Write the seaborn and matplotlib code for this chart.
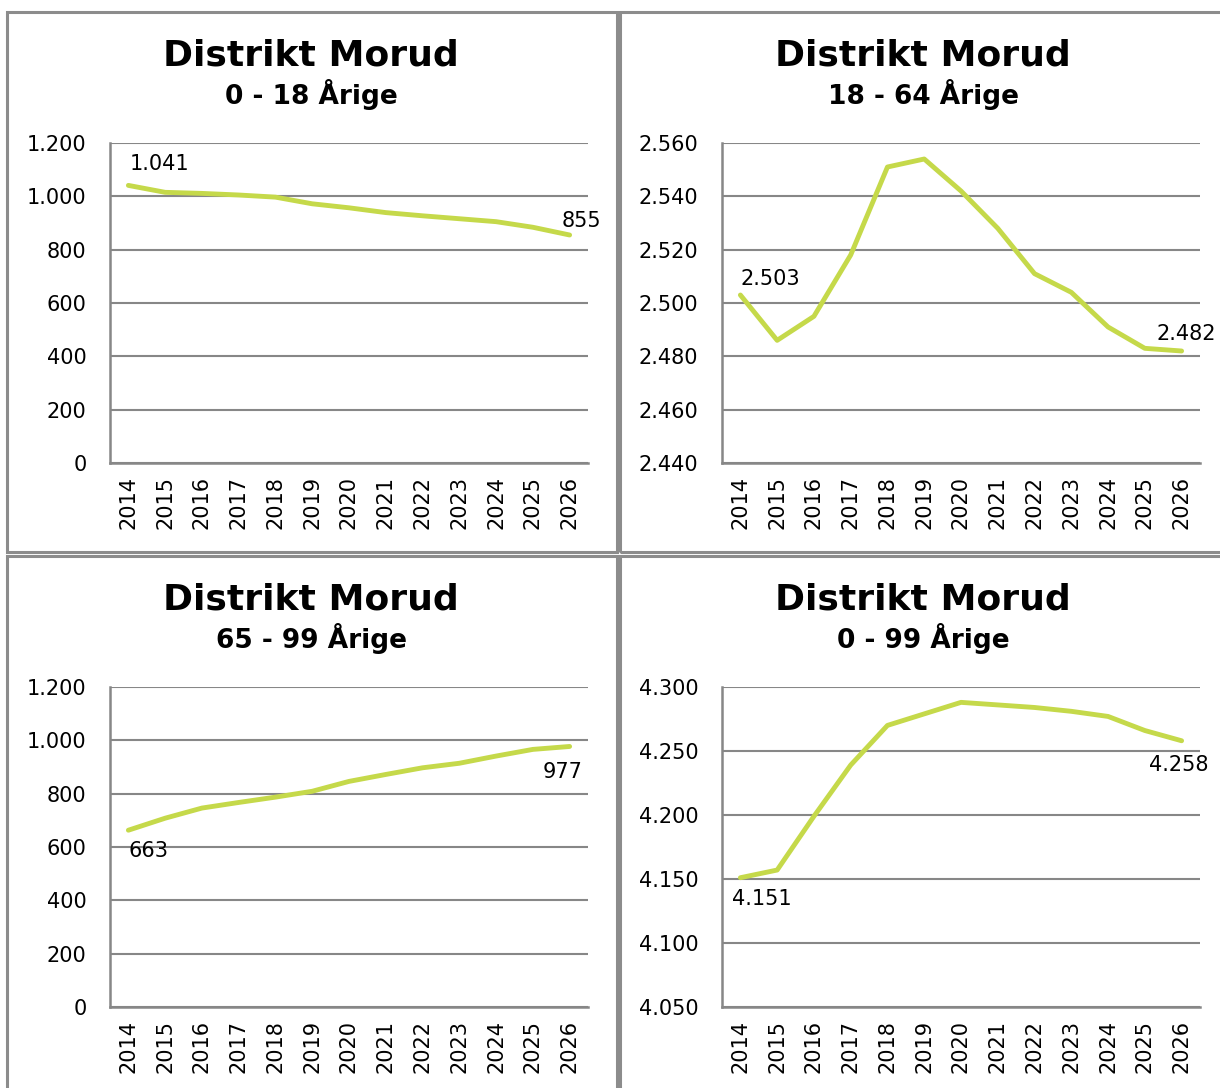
import matplotlib
matplotlib.use('Agg')
import matplotlib.pyplot as plt
import matplotlib.ticker as mticker
from matplotlib.patches import Rectangle
import seaborn as sns
import pandas as pd

years = [2014, 2015, 2016, 2017, 2018, 2019, 2020, 2021, 2022, 2023, 2024, 2025, 2026]

# population per age group
age_0_18 = [1041, 1015, 1011, 1005, 997, 972, 957, 939, 927, 916, 905, 884, 855]
age_18_64 = [2503, 2486, 2495, 2518, 2551, 2554, 2542, 2528, 2511, 2504, 2491, 2483, 2482]
age_65_99 = [663, 708, 746, 767, 787, 809, 846, 872, 897, 914, 941, 966, 977]
age_0_99 = [4151, 4157, 4199, 4239, 4270, 4279, 4288, 4286, 4284, 4281, 4277, 4266, 4258]

title = 'Distrikt Morud'
subtitles = ['0 - 18 Årige', '18 - 64 Årige', '65 - 99 Årige', '0 - 99 Årige']
series = [age_0_18, age_18_64, age_65_99, age_0_99]
y_ranges = [(0, 1200, 200), (2440, 2560, 20), (0, 1200, 200), (4050, 4300, 50)]

# data label offsets (points) for first / last value: (dx, dy, ha, va)
first_lbl = [(1, 8, 'left', 'bottom'), (0, 4, 'left', 'bottom'),
             (0, -8, 'left', 'top'), (-6, -8, 'left', 'top')]
last_lbl = [(23, 3, 'right', 'bottom'), (25, 5, 'right', 'bottom'),
            (-5, -11, 'center', 'top'), (-2, -10, 'center', 'top')]

LINE_COLOR = '#c5d94a'
GRID_COLOR = '#878787'

sns.set_style('white')
plt.rcParams['font.family'] = ['DejaVu Sans']
plt.rcParams['text.color'] = 'black'
plt.rcParams['xtick.color'] = 'black'
plt.rcParams['ytick.color'] = 'black'


def fmt_thousands(v, pos=None):
    return f'{int(round(v)):,}'.replace(',', '.')


fig = plt.figure(figsize=(12.2, 10.88), dpi=100)
W, H = 1220, 1088

# panel frames (pixels): left, top, right, bottom
frames = [(7, 12, 617, 552), (620, 12, 1226, 552), (7, 556, 617, 1094), (620, 556, 1226, 1094)]
# axes boxes (pixels): left, top, right, bottom
boxes = [(110, 143, 588, 463), (722, 143, 1200, 463), (110, 687, 588, 1007), (722, 687, 1200, 1007)]

for fr in frames:
    l, t, r, b = fr
    fig.patches.append(Rectangle((l / W, 1 - b / H), (r - l) / W, (b - t) / H,
                                 transform=fig.transFigure, fill=False,
                                 edgecolor='#8c8c8c', linewidth=2.2, zorder=0))

for i in range(4):
    l, t, r, b = boxes[i]
    ax = fig.add_axes([l / W, 1 - b / H, (r - l) / W, (b - t) / H])
    df = pd.DataFrame({'idx': range(len(years)), 'value': series[i]})
    sns.lineplot(data=df, x='idx', y='value', ax=ax, color=LINE_COLOR,
                 linewidth=3.5, solid_capstyle='round', zorder=3)

    lo, hi, step = y_ranges[i]
    ax.set_ylim(lo, hi)
    ax.set_yticks(range(lo, hi + 1, step))
    ax.yaxis.set_major_formatter(mticker.FuncFormatter(fmt_thousands))
    ax.set_xlim(-0.5, len(years) - 0.5)
    ax.set_xticks(list(range(len(years))) + [len(years) - 0.5])
    ax.set_xticklabels([str(y) for y in years] + [''], rotation=90)
    ax.set_xlabel('')
    ax.set_ylabel('')

    ax.grid(axis='y', color=GRID_COLOR, linewidth=1.5)
    ax.grid(axis='x', visible=False)
    for s in ['top', 'right']:
        ax.spines[s].set_visible(False)
    for s in ['left', 'bottom']:
        ax.spines[s].set_color(GRID_COLOR)
        ax.spines[s].set_linewidth(1.8)
    ax.tick_params(axis='x', direction='inout', length=13, width=1.5,
                   color=GRID_COLOR, labelcolor='black', labelsize=15, pad=3)
    ax.tick_params(axis='y', length=0, labelsize=15, pad=17)
    ax.set_axisbelow(True)

    # data labels for first and last points
    first, last = series[i][0], series[i][-1]
    dx, dy, ha, va = first_lbl[i]
    ax.annotate(fmt_thousands(first), (0, first), xytext=(dx, dy),
                textcoords='offset points', ha=ha, va=va, fontsize=15)
    dx, dy, ha, va = last_lbl[i]
    ax.annotate(fmt_thousands(last), (len(years) - 1, last), xytext=(dx, dy),
                textcoords='offset points', ha=ha, va=va, fontsize=15)

    # titles
    cx = ((l + r) / 2 - 38) / W
    top_y = frames[i][1]
    fig.text(cx, 1 - (top_y + 43) / H, title, ha='center', va='center',
             fontsize=26, fontweight='bold')
    fig.text(cx, 1 - (top_y + 82) / H, subtitles[i], ha='center', va='center',
             fontsize=19, fontweight='bold')

fig.savefig('out.png', dpi=100)
